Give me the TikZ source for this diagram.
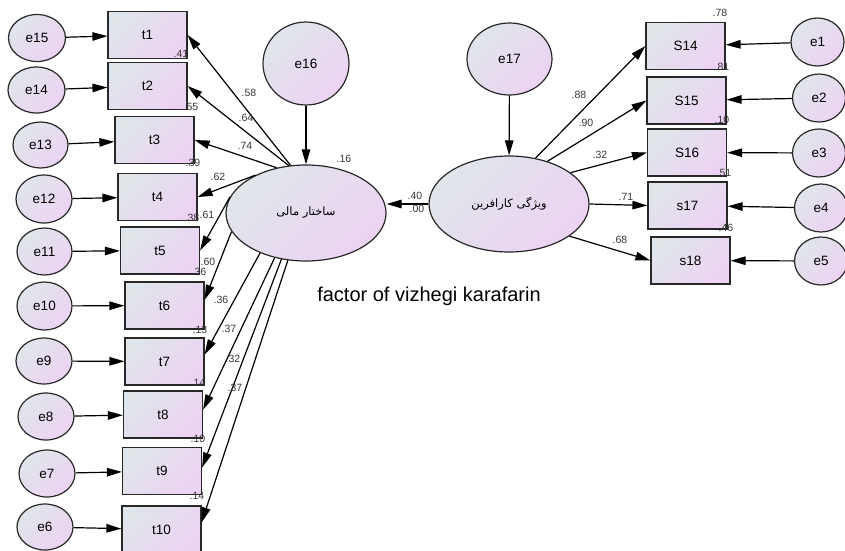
\documentclass[tikz,border=0pt]{standalone}
\usepackage{fontspec}
\setmainfont{Liberation Sans}
\newfontfamily\farsi[Script=Arabic]{DejaVu Sans}
\TeXXeTstate=1
\usetikzlibrary{shapes.geometric,arrows.meta}

\definecolor{shadeA}{RGB}{224,229,234}
\definecolor{shadeB}{RGB}{236,211,243}
\definecolor{edgegray}{RGB}{40,40,40}
\definecolor{numgray}{RGB}{55,55,55}

\tikzset{
  filled/.style={top color=shadeA, bottom color=shadeB, shading angle=45,
                 draw=edgegray, line width=1.2pt},
  obsbox/.style={filled, rectangle, minimum width=79pt, minimum height=47pt,
                 inner sep=0pt, font=\fontsize{13.5}{13.5}\selectfont},
  errnode/.style={filled, ellipse, inner sep=0pt,
                  font=\fontsize{13.5}{13.5}\selectfont},
  latent/.style={filled, ellipse, minimum width=160pt, minimum height=96pt,
                 inner sep=0pt, font=\farsi\fontsize{11.5}{11.5}\selectfont},
  patharrow/.style={draw=black, line width=1.2pt,
                    -{Triangle[length=15pt,width=8.5pt]}},
  coef/.style={font=\fontsize{10.5}{10.5}\selectfont, text=numgray, inner sep=0pt},
}

\begin{document}
\begin{tikzpicture}[x=1pt,y=-1pt]
\useasboundingbox (0,0) rectangle (845,550);

% latent variables and their disturbances
\node[latent] (m) at (306,213) {\beginR ساختار مالی\endR};
\node[latent] (r) at (509,204) {\beginR ویژگی کارافرین\endR};
\node[errnode, minimum width=86pt, minimum height=83pt] (e16) at (306,63.5) {e16};
\node[errnode, minimum width=85pt, minimum height=72pt] (e17) at (509.5,59) {e17};

% indicators of the left factor
\node[obsbox] (t1)  at (147.5,35)    {t1};
\node[obsbox] (t2)  at (147.5,86)    {t2};
\node[obsbox] (t3)  at (154.5,140)   {t3};
\node[obsbox] (t4)  at (157.5,197)   {t4};
\node[obsbox] (t5)  at (160,250.5)   {t5};
\node[obsbox] (t6)  at (164.5,305.5) {t6};
\node[obsbox] (t7)  at (164.5,361.5) {t7};
\node[obsbox] (t8)  at (163,414.5)   {t8};
\node[obsbox] (t9)  at (162,471)     {t9};
\node[obsbox] (t10) at (161.5,529.5) {t10};

% their error terms
\node[errnode, minimum width=57pt, minimum height=47pt] (e15) at (37,38)    {e15};
\node[errnode, minimum width=57pt, minimum height=46pt] (e14) at (36.5,90)  {e14};
\node[errnode, minimum width=55pt, minimum height=46pt] (e13) at (40.5,145) {e13};
\node[errnode, minimum width=56pt, minimum height=48pt] (e12) at (44,199)   {e12};
\node[errnode, minimum width=55pt, minimum height=47pt] (e11) at (44.5,251.5) {e11};
\node[errnode, minimum width=55pt, minimum height=48pt] (e10) at (44.5,306) {e10};
\node[errnode, minimum width=56pt, minimum height=46pt] (e9)  at (44,361)   {e9};
\node[errnode, minimum width=56pt, minimum height=47pt] (e8)  at (46,416.5) {e8};
\node[errnode, minimum width=56pt, minimum height=47pt] (e7)  at (47,473.5) {e7};
\node[errnode, minimum width=56pt, minimum height=46pt] (e6)  at (45,527)   {e6};

% indicators of the right factor
\node[obsbox] (S14) at (685.5,46)    {S14};
\node[obsbox] (S15) at (686.5,100.5) {S15};
\node[obsbox] (S16) at (687,152.5)   {S16};
\node[obsbox] (s17) at (687.5,205.5) {s17};
\node[obsbox] (s18) at (690.5,260.5) {s18};

\node[errnode, minimum width=53pt, minimum height=48pt] (e1) at (817.5,42)  {e1};
\node[errnode, minimum width=53pt, minimum height=48pt] (e2) at (819,98)    {e2};
\node[errnode, minimum width=53pt, minimum height=48pt] (e3) at (819,153)   {e3};
\node[errnode, minimum width=53pt, minimum height=48pt] (e4) at (821,208)   {e4};
\node[errnode, minimum width=53pt, minimum height=48pt] (e5) at (821,261)   {e5};

% disturbances
\draw[patharrow] (e16) -- (m);
\draw[patharrow] (e17) -- (r);
\draw[patharrow] (r.west) -- (r.west -| m.east);

% loadings of the left factor
\draw[patharrow] (m.108) -- (t1.east);
\draw[patharrow] (m.110) -- (t2.east);
\draw[patharrow] (m.123) -- (t3.east);
\draw[patharrow] (m.143) -- (t4.east);
\draw[patharrow] (m.168) -- (t5.east);
\draw[patharrow] (m.194) -- (t6.8);
\draw[patharrow] (m.221) -- (t7.10);
\draw[patharrow] (m.235) -- (t8.7);
\draw[patharrow] (m.242) -- (t9.5);
\draw[patharrow] (m.249) -- (t10.10);

% loadings of the right factor
\draw[patharrow] (r.60)  -- (S14.west);
\draw[patharrow] (r.48)  -- (S15.west);
\draw[patharrow] (r.27)  -- (S16.west);
\draw[patharrow] (r.east) -- (s17.west);
\draw[patharrow] (r.-28) -- (s18.west);

% error terms into indicators
\foreach \e/\t in {e15/t1,e14/t2,e13/t3,e12/t4,e11/t5,e10/t6,e9/t7,e8/t8,e7/t9,e6/t10,
                   e1/S14,e2/S15,e3/S16,e4/s17,e5/s18}
  \draw[patharrow] (\e) -- (\t);

% standardized estimates
\node[coef] (c1)  at (249,93)  {.58};
\node[coef] (c2)  at (246,118) {.64};
\node[coef] (c3)  at (245,146) {.74};
\node[coef] (c4)  at (218,177) {.62};
\node[coef] (c5)  at (207,215) {.61};
\node[coef] (c6)  at (208,262) {.60};
\node[coef] (c7)  at (221,300) {.36};
\node[coef] (c8)  at (229,329) {.37};
\node[coef] (c9)  at (233,359) {.32};
\node[coef] (c10) at (235,388) {.37};

\node[coef] (q1) at (181,54)  {.41};
\node[coef] (q2) at (191,107) {.55};
\node[coef] (q3) at (193,163) {.39};
\node[coef] (q4) at (192,218) {.38};
\node[coef] (q5) at (199,272) {.36};
\node[coef] (q6) at (200,330) {.13};
\node[coef] (q7) at (198,383) {.14};
\node[coef] (q8) at (198,439) {.10};
\node[coef] (q9) at (197,496) {.14};

\node[coef] (d1) at (579,95)  {.88};
\node[coef] (d2) at (586,123) {.90};
\node[coef] (d3) at (600,155) {.32};
\node[coef] (d4) at (626,197) {.71};
\node[coef] (d5) at (620,240) {.68};

\node[coef] (p1) at (720,13)  {.78};
\node[coef] (p2) at (722,67)  {.81};
\node[coef] (p3) at (722,120) {.10};
\node[coef] (p4) at (724,173) {.51};
\node[coef] (p5) at (726,228) {.46};

\node[coef] (g1) at (344,159) {.16};
\node[coef] (g2) at (415,196) {.40};
\node[coef] (g3) at (417,209) {.00};

\node[font=\fontsize{20}{20}\selectfont, anchor=base, inner sep=0pt] (title)
  at (429,301) {factor of vizhegi karafarin};
\end{tikzpicture}
\end{document}
